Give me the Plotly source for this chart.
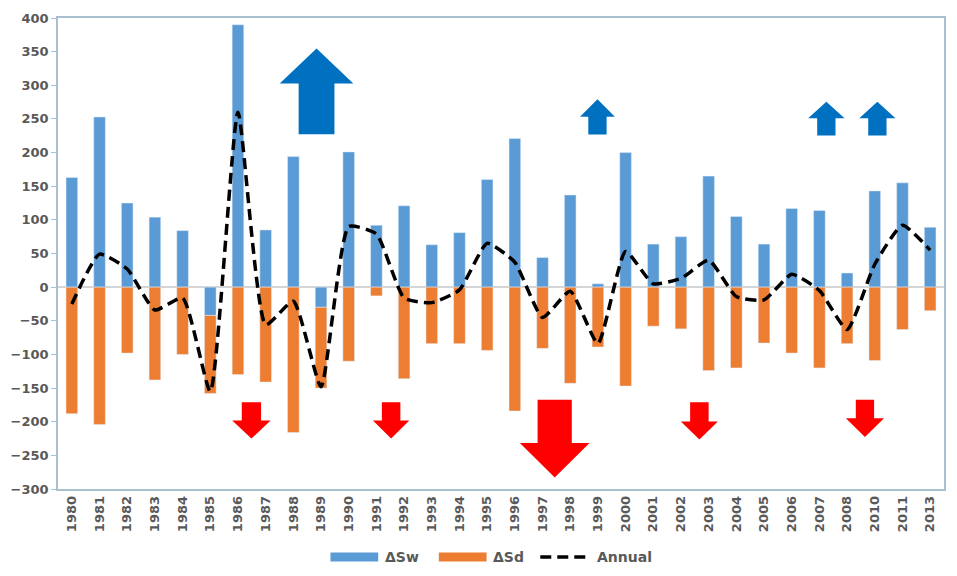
import plotly.graph_objects as go

years = ["1980", "1981", "1982", "1983", "1984", "1985", "1986", "1987", "1988", "1989",
         "1990", "1991", "1992", "1993", "1994", "1995", "1996", "1997", "1998", "1999",
         "2000", "2001", "2002", "2003", "2004", "2005", "2006", "2007", "2008", "2010",
         "2011", "2013"]
d_sw = [163, 253, 125, 104, 84, -42, 390, 85, 194, -30,
        201, 92, 121, 63, 81, 160, 221, 44, 137, 5,
        200, 64, 75, 165, 105, 64, 117, 114, 21, 143,
        155, 89]
d_sd = [-188, -204, -98, -138, -100, -116, -130, -141, -216, -120,
        -110, -13, -136, -84, -84, -94, -184, -91, -143, -89,
        -147, -58, -62, -124, -120, -83, -98, -120, -84, -109,
        -63, -35]
annual = [-25, 49, 27, -34, -16, -155, 260, -56, -21, -148,
          90, 79, -16, -23, -4, 65, 37, -45, -6, -84,
          53, 5, 13, 40, -14, -19, 19, -5, -63, 34,
          92, 55]
y_ticks = list(range(-300, 401, 50))

# page body has an 8px default margin; figure fills the rest of the window
OFF = 8
W, H = 957 - 2 * OFF, 576 - 2 * OFF
# plot area in window pixels
L, R, T, B = 55, 946, 15, 489

BLUE = "#5B9BD5"
ORANGE = "#ED7D31"
ARROW_BLUE = "#0070C0"
ARROW_RED = "#FF0000"
FRAME = "#A9C0D0"
TXT = "#595959"
FONT = "DejaVu Sans"


def px(x):
    return (x - L) / (R - L)


def py(y):
    return (B - y) / (B - T)


fig = go.Figure()
fig.add_trace(go.Bar(x=years, y=d_sw, name="ΔSw", marker_color=BLUE))
fig.add_trace(go.Bar(x=years, y=d_sd, name="ΔSd", marker_color=ORANGE))
fig.add_trace(go.Scatter(x=years, y=annual, name="Annual", mode="lines",
                         line=dict(color="black", width=3.5, dash="11px,6px",
                                   shape="spline", smoothing=0.5)))

# decorative arrows (window-pixel geometry -> paper coords)
up_arrows = [  # cx, tip_y, head_base_y, head_half, shaft_half, end_y
    (315, 45.7, 81, 37, 18, 132),
    (597.5, 96.7, 114.3, 17.5, 9.2, 132.3),
    (827.7, 99.3, 116, 18.3, 9.2, 133.3),
    (879, 99.3, 116, 18.2, 9.2, 133.3),
]
down_arrows = [
    (249.5, 438.3, 420, 19.3, 9.7, 401.7),
    (390, 438.3, 420, 18.3, 9.3, 401.7),
    (554.5, 477.3, 442.7, 35, 17.2, 399.3),
    (700, 439.3, 421, 18.6, 9.3, 401.7),
    (866.5, 436.7, 417.7, 19.2, 9.2, 399.3),
]
shapes = []


def arrow_path(cx, tip, hb, hh, sh, end):
    pts = [(cx, tip), (cx + hh, hb), (cx + sh, hb), (cx + sh, end),
           (cx - sh, end), (cx - sh, hb), (cx - hh, hb)]
    return "M " + " L ".join(f"{px(a):.5f},{py(b):.5f}" for a, b in pts) + " Z"


for a in up_arrows:
    shapes.append(dict(type="path", xref="paper", yref="paper", path=arrow_path(*a),
                       fillcolor=ARROW_BLUE, line=dict(width=0)))
for a in down_arrows:
    shapes.append(dict(type="path", xref="paper", yref="paper", path=arrow_path(*a),
                       fillcolor=ARROW_RED, line=dict(width=0)))

# manual legend
legend_y = 557.5
shapes.append(dict(type="rect", xref="paper", yref="paper",
                   x0=px(329), x1=px(377), y0=py(553), y1=py(562),
                   fillcolor=BLUE, line=dict(width=0)))
shapes.append(dict(type="rect", xref="paper", yref="paper",
                   x0=px(438), x1=px(486), y0=py(553), y1=py(562),
                   fillcolor=ORANGE, line=dict(width=0)))
shapes.append(dict(type="line", xref="paper", yref="paper",
                   x0=px(540), x1=px(590), y0=py(legend_y), y1=py(legend_y),
                   line=dict(color="black", width=3.5, dash="11px,6px")))
annotations = []
for xx, t in [(382, "ΔSw"), (490, "ΔSd"), (595, "Annual")]:
    annotations.append(dict(xref="paper", yref="paper", x=px(xx), y=py(legend_y),
                            text=t, showarrow=False, xanchor="left", yanchor="middle",
                            font=dict(family=FONT, size=14, color=TXT, weight="bold")))

fig.update_layout(
    width=W, height=H,
    margin=dict(l=L - OFF, r=W - (R - OFF), t=T - OFF, b=H - (B - OFF), pad=0),
    paper_bgcolor="white", plot_bgcolor="white",
    barmode="relative", bargap=0.58,
    showlegend=False,
    shapes=shapes, annotations=annotations,
    font=dict(family=FONT, color=TXT),
)
fig.update_xaxes(type="category", tickangle=-90, showgrid=False,
                 showline=True, linecolor=FRAME, linewidth=1.5, mirror=True,
                 ticks="", ticklabeloverflow="allow",
                 tickfont=dict(family=FONT, size=13, color=TXT, weight="bold"))
fig.update_yaxes(range=[-300, 400], tickvals=y_ticks, showgrid=False,
                 zeroline=True, zerolinecolor="#D5D5D5", zerolinewidth=1.5,
                 showline=True, linecolor=FRAME, linewidth=1.5, mirror=True,
                 ticks="outside", ticklen=5, tickcolor=FRAME,
                 ticklabeloverflow="allow",
                 tickfont=dict(family=FONT, size=13, color=TXT, weight="bold"))

fig.write_html("out.html")
